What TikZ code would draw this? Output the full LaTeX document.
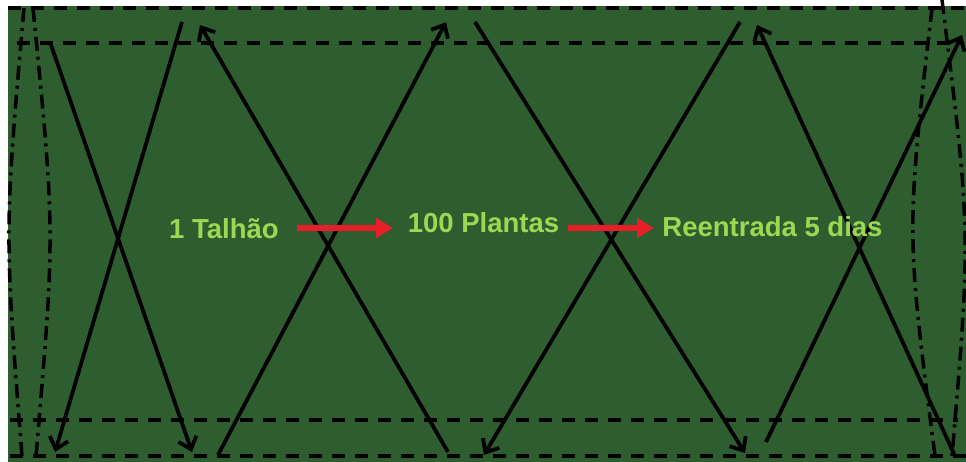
\documentclass[tikz,border=0pt]{standalone}
\usepackage{fontspec}
\setmainfont{Liberation Sans}
\usetikzlibrary{arrows.meta}
\definecolor{fieldgreen}{RGB}{46,94,48}
\definecolor{labelgreen}{RGB}{158,216,82}
\definecolor{arrowred}{RGB}{232,30,40}
\tikzset{
  rowline/.style={line width=3.8pt, black, dash pattern=on 13pt off 10pt},
  edgeline/.style={line width=3.5pt, black, dash pattern=on 14pt off 6pt on 3pt off 6pt},
  walkline/.style={line width=3.8pt, black, -{Straight Barb[length=11pt,width=19pt]}},
  flowarrow/.style={line width=6pt, arrowred, -{Triangle[length=17pt,width=19pt]}},
  steplabel/.style={text=labelgreen, font=\bfseries\fontsize{27.5}{30}\selectfont, inner sep=0pt, anchor=base}
}
\begin{document}
\begin{tikzpicture}[x=1pt,y=-1pt]
\useasboundingbox (0,0) rectangle (966,462);
\fill[fieldgreen] (8,6) rectangle (966,462);
% dashed rows
\coordinate (d1a) at (8,8);   \coordinate (d1b) at (966,8);
\coordinate (d2a) at (17,43); \coordinate (d2b) at (962,43);
\coordinate (d3a) at (10,420);\coordinate (d3b) at (958,420);
\coordinate (d4a) at (10,456);\coordinate (d4b) at (966,456);
\draw[rowline] (d1a) -- (d1b);
\draw[rowline] (d2a) -- (d2b);
\draw[rowline] (d3a) -- (d3b);
\draw[rowline] (d4a) -- (d4b);
% dash-dot borders
\draw[edgeline] (24,8) .. controls (4.3,232) .. (22,456);
\draw[edgeline] (33,8) .. controls (55.2,232) .. (36,456);
\draw[edgeline] (932,8) .. controls (906,232) .. (935,456);
\draw[edgeline] (942,0) .. controls (971,232) .. (952,456);
% zigzag walk
\coordinate (a1) at (50,42);   \coordinate (a2) at (192,452);
\coordinate (b1) at (182,22);  \coordinate (b2) at (55,452);
\coordinate (c1) at (218,455); \coordinate (c2) at (446,22);
\coordinate (e1) at (448,452); \coordinate (e2) at (200,25);
\coordinate (f1) at (475,22);  \coordinate (f2) at (745,453);
\coordinate (g1) at (740,22);  \coordinate (g2) at (484,455);
\coordinate (h1) at (766,442); \coordinate (h2) at (962,35);
\coordinate (k1) at (955,456); \coordinate (k2) at (757,25);
\draw[walkline] (a1) -- (a2);
\draw[walkline] (b1) -- (b2);
\draw[walkline] (c1) -- (c2);
\draw[walkline] (e1) -- (e2);
\draw[walkline] (f1) -- (f2);
\draw[walkline] (g1) -- (g2);
\draw[walkline] (h1) -- (h2);
\draw[walkline] (k1) -- (k2);
% labels
\node[steplabel] (t1) at (224,239) {1 Talhão};
\node[steplabel] (t2) at (483.5,233) {100 Plantas};
\node[steplabel] (t3) at (772.5,237) {Reentrada 5 dias};
\coordinate (r1s) at (297,228); \coordinate (r1e) at (393,228);
\coordinate (r2s) at (568,228); \coordinate (r2e) at (654,228);
\draw[flowarrow] (r1s) -- (r1e);
\draw[flowarrow] (r2s) -- (r2e);
\end{tikzpicture}
\end{document}
